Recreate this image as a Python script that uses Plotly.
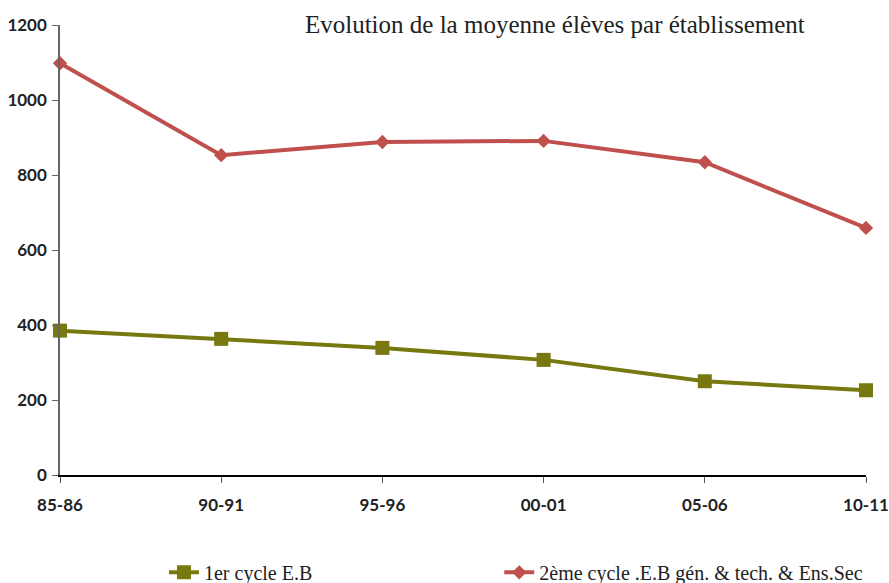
import plotly.graph_objects as go

# Moyenne d'élèves par établissement
annees = ['85-86', '90-91', '95-96', '00-01', '05-06', '10-11']
cycle1 = [385, 363, 339, 307, 250, 226]
cycle2 = [1098, 853, 888, 891, 834, 659]

GREEN = '#787810'
RED = '#c0504d'

fig = go.Figure()
fig.add_trace(go.Scatter(
    x=annees, y=cycle1, name='1er cycle E.B', mode='lines+markers',
    line=dict(color=GREEN, width=4),
    marker=dict(symbol='square', size=14, color=GREEN),
    cliponaxis=False, legend='legend',
))
fig.add_trace(go.Scatter(
    x=annees, y=cycle2, name='2ème cycle .E.B gén. & tech. & Ens.Sec', mode='lines+markers',
    line=dict(color=RED, width=4),
    marker=dict(symbol='diamond', size=11, color=RED),
    cliponaxis=False, legend='legend2',
))

legend_font = dict(family='Liberation Serif', size=20, color='#222')

fig.update_layout(
    width=889, height=583,
    margin=dict(l=60, r=23, t=25, b=108, autoexpand=False),
    plot_bgcolor='white', paper_bgcolor='white',
    showlegend=True,
    title=dict(text='Evolution de la moyenne élèves par établissement',
               x=0.614, xanchor='center', xref='paper',
               y=1 - 24 / 583, yref='container', yanchor='middle',
               font=dict(family='Liberation Serif', size=25, color='#222'),
               automargin=False),
    legend=dict(orientation='h', x=0.129, xanchor='left', y=-0.173, yanchor='top',
                font=legend_font, itemwidth=30),
    legend2=dict(orientation='h', x=0.545, xanchor='left', y=-0.173, yanchor='top',
                 font=legend_font, itemwidth=30),
    font=dict(family='Lato', size=17, color='#222'),
)

fig.update_xaxes(
    type='category', range=[0, 5], automargin=False,
    showline=True, linecolor='black', linewidth=1.5,
    ticks='outside', ticklen=6, tickcolor='#555', tickson='labels',
    showgrid=False, tickfont=dict(family='Lato', size=17, weight='bold'),
    ticklabelstandoff=8,
)
fig.update_yaxes(
    range=[0, 1200], dtick=200, automargin=False,
    showline=True, linecolor='#666', linewidth=1.5,
    ticks='outside', ticklen=6, tickcolor='#666',
    showgrid=False, zeroline=False,
    tickfont=dict(family='Lato', size=17, weight='bold'),
    ticklabelstandoff=2,
)

# drop the default body margin so the figure fills the window exactly
fig.write_html('out.html', config={'displayModeBar': False},
               post_script="document.body.style.margin='0';document.body.style.overflow='hidden';")
